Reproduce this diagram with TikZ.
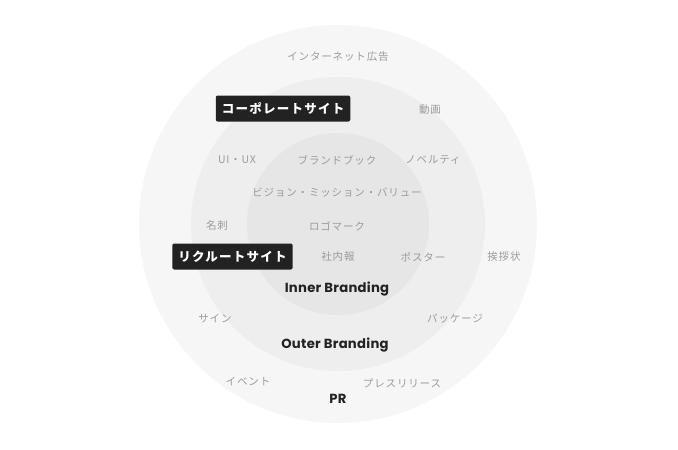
\documentclass[tikz,border=0pt]{standalone}
\usepackage{fontspec}
\newfontfamily\jp{Noto Sans CJK JP}[LetterSpace=8]
\newfontfamily\jpb{Noto Sans CJK JP}[LetterSpace=10]
\newfontfamily\lat{Poppins}[LetterSpace=2]
\definecolor{ringA}{HTML}{F6F6F6}
\definecolor{ringB}{HTML}{EEEEEE}
\definecolor{ringC}{HTML}{E6E6E6}
\definecolor{lbl}{HTML}{9B9B9B}
\definecolor{boxc}{HTML}{222222}
\definecolor{dark}{HTML}{222222}
\tikzset{
  item/.style={font=\jp\fontsize{10.5}{12}\selectfont, text=lbl, inner sep=0pt, yshift=-1pt},
  tag/.style={font=\jpb\bfseries\fontsize{12.5}{14}\selectfont, text=white, fill=boxc, rounded corners=2pt, inner xsep=6pt, inner ysep=0pt, minimum height=26pt},
  title/.style={font=\lat\bfseries\fontsize{13.2}{15}\selectfont, text=dark, inner sep=0pt, yshift=-2pt}
}
\begin{document}
\begin{tikzpicture}[x=1pt,y=-1pt]
\useasboundingbox (0,0) rectangle (678,450);
\fill[white] (0,0) rectangle (678,450);
\fill[ringA] (338,224) circle (199pt);
\fill[ringB] (338,224) circle (147pt);
\fill[ringC] (338,224) circle (91pt);
\node[item] (net) at (338,56) {インターネット広告};
\node[tag] (corp) at (283,108.5) {コーポレートサイト};
\node[item] (movie) at (430,109) {動画};
\node[item] (uiux) at (237,159) {UI・UX};
\node[item] (book) at (337,159) {ブランドブック};
\node[item] (novelty) at (433,159) {ノベルティ};
\node[item] (vision) at (337,192) {ビジョン・ミッション・バリュー};
\node[item] (card) at (217,225) {名刺};
\node[item] (logo) at (337,225) {ロゴマーク};
\node[tag] (recruit) at (232.5,256.5) {リクルートサイト};
\node[item] (news) at (338,256) {社内報};
\node[item] (poster) at (423,256) {ポスター};
\node[item] (greet) at (504,256) {挨拶状};
\node[title] (inner) at (337,287) {Inner Branding};
\node[item] (sign) at (215,318) {サイン};
\node[item] (pkg) at (455,318) {パッケージ};
\node[title] (outer) at (335,343) {Outer Branding};
\node[item] (event) at (248,381) {イベント};
\node[item] (press) at (402,382) {プレスリリース};
\node[title] (pr) at (338,397) {PR};
\end{tikzpicture}
\end{document}
